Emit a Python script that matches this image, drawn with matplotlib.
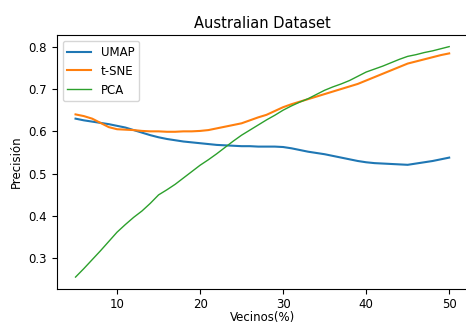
import matplotlib
matplotlib.use("Agg")
import matplotlib.pyplot as plt
import numpy as np

vecinos = list(range(5, 51))
umap = [0.630, 0.626, 0.623, 0.620, 0.617, 0.613, 0.609, 0.603, 0.597, 0.591,
        0.586, 0.582, 0.579, 0.576, 0.574, 0.572, 0.570, 0.568, 0.567, 0.566,
        0.565, 0.565, 0.564, 0.564, 0.564, 0.563, 0.560, 0.556, 0.552, 0.549,
        0.546, 0.542, 0.538, 0.534, 0.530, 0.527, 0.525, 0.524, 0.523, 0.522,
        0.521, 0.524, 0.527, 0.530, 0.534, 0.538]
tsne = [0.640, 0.636, 0.630, 0.620, 0.610, 0.605, 0.604, 0.603, 0.601, 0.600,
        0.600, 0.599, 0.599, 0.600, 0.600, 0.601, 0.603, 0.607, 0.611, 0.615,
        0.619, 0.626, 0.633, 0.639, 0.648, 0.657, 0.664, 0.670, 0.676, 0.682,
        0.688, 0.694, 0.700, 0.706, 0.712, 0.720, 0.728, 0.736, 0.744, 0.752,
        0.760, 0.765, 0.770, 0.775, 0.780, 0.784]
pca = [0.256, 0.276, 0.297, 0.318, 0.340, 0.362, 0.380, 0.397, 0.412, 0.430,
       0.450, 0.462, 0.475, 0.490, 0.505, 0.520, 0.533, 0.547, 0.562, 0.577,
       0.591, 0.603, 0.615, 0.627, 0.638, 0.650, 0.660, 0.669, 0.677, 0.687,
       0.697, 0.705, 0.712, 0.720, 0.730, 0.740, 0.747, 0.754, 0.762, 0.770,
       0.777, 0.781, 0.786, 0.790, 0.795, 0.800]

plt.rcParams['font.family'] = ['DejaVu Sans']
fig = plt.figure(figsize=(4.66, 3.25), dpi=100)
ax = fig.add_axes([0.122, 0.112, 0.882, 0.780])
ax.plot(vecinos, umap, color='#1f77b4', lw=1.5, label='UMAP')
ax.plot(vecinos, tsne, color='#ff7f0e', lw=1.5, label='t-SNE')
ax.plot(vecinos, pca, color='#2ca02c', lw=1.0, label='PCA')
ax.set_xticks([10, 20, 30, 40, 50])
ax.set_yticks([0.3, 0.4, 0.5, 0.6, 0.7, 0.8])
ax.set_yticklabels(['0.3', '0.4', '0.5', '0.6', '0.7', '0.8'])
ax.tick_params(labelsize=8.5)
ax.set_title('Australian Dataset', fontsize=10.5, pad=5)
ax.set_xlabel('Vecinos(%)', fontsize=8.5, labelpad=0)
ax.set_ylabel('Precisión', fontsize=8.5)
ax.legend(loc='upper left', fontsize=8.5)
fig.savefig('out.png', dpi=100)
